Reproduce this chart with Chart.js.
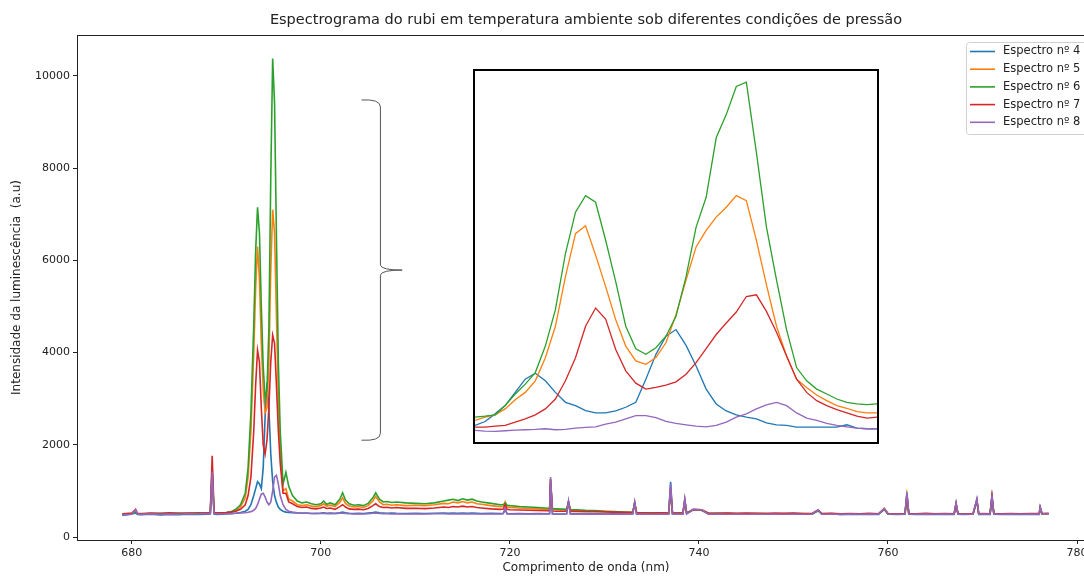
<!DOCTYPE html>
<html>
<head>
<meta charset="utf-8">
<script src="https://cdn.jsdelivr.net/npm/chart.js@4.4.1/dist/chart.umd.min.js"></script>
<style>
  html, body { margin: 0; padding: 0; overflow: hidden; background: #fff; }
  #wrap { position: relative; width: 1110px; height: 577px; }
  #main { position: absolute; left: 0; top: 0; }
  #insetBox { position: absolute; left: 473px; top: 69px; width: 402px; height: 371px;
              border: 2px solid #000; background: #fff; }
</style>
</head>
<body>
<div id="wrap">
  <canvas id="main" width="1110" height="577"></canvas>
  <div id="insetBox"><canvas id="inset" width="402" height="371"></canvas></div>
</div>
<script>
// --- data ---
const chartTitle = 'Espectrograma do rubi em temperatura ambiente sob diferentes condições de pressão';
const seriesLabels = ['Espectro nº 4', 'Espectro nº 5', 'Espectro nº 6', 'Espectro nº 7', 'Espectro nº 8'];
const seriesColors = ['#1f77b4', '#ff7f0e', '#2ca02c', '#d62728', '#9467bd'];
const xTickValues = [680, 700, 720, 740, 760, 780];
const yTickValues = [0, 2000, 4000, 6000, 8000, 10000];

const wavelength = [
  679, 680, 680.4, 680.6, 681, 682, 683, 684, 685, 686,
  687, 688, 688.3, 688.5, 688.7, 689, 690, 690.5, 691, 691.5,
  692, 692.3, 692.6, 692.9, 693.1, 693.3, 693.5, 693.7, 693.9, 694.1,
  694.3, 694.5, 694.7, 694.9, 695.1, 695.3, 695.5, 695.7, 696.0, 696.3,
  696.6, 697.0, 697.5, 698, 698.5, 699, 699.5, 700, 700.3, 700.6,
  701, 701.5, 702, 702.3, 702.6, 703, 703.5, 704, 704.5, 705,
  705.5, 705.8, 706.2, 706.6, 707, 707.5, 708, 709, 710, 711,
  712, 713, 713.5, 714, 714.5, 715, 715.5, 716, 716.5, 717,
  718, 719, 719.3, 719.5, 719.7, 720, 721, 722, 723, 724,
  724.2, 724.3, 724.5, 725, 726, 726.2, 726.4, 727, 728, 729,
  730, 731, 732, 733, 733.2, 733.4, 734, 735, 736, 736.8,
  737, 737.2, 738, 738.3, 738.5, 738.7, 739.4, 740.3, 741, 742,
  743, 744, 745, 746, 747, 748, 749, 750, 751, 752,
  752.6, 753, 754, 755, 756, 757, 758, 759, 759.6, 760,
  761, 761.8, 762, 762.2, 763, 764, 765, 766, 767, 767.2,
  767.4, 768, 769, 769.4, 769.6, 770, 770.8, 771, 771.2, 772,
  773, 774, 775, 776, 776.1, 776.3, 777
];

const espectro4 = [
  470, 500, 520, 490, 485, 495, 480, 490, 485, 495,
  490, 495, 500, 1300, 500, 490, 500, 505, 515, 530,
  560, 600, 700, 900, 1050, 1200, 1150, 1050, 1500, 2600,
  3350, 2800, 1800, 1200, 900, 750, 650, 600, 560, 540,
  530, 525, 520, 515, 520, 510, 515, 520, 525, 515,
  520, 515, 525, 540, 525, 515, 510, 515, 510, 520,
  530, 540, 525, 520, 515, 520, 515, 510, 515, 510,
  515, 520, 515, 520, 515, 520, 515, 520, 515, 510,
  515, 510, 515, 600, 510, 505, 510, 505, 510, 505,
  510, 1250, 505, 500, 505, 760, 500, 505, 500, 505,
  500, 505, 500, 505, 740, 500, 505, 500, 505, 500,
  1200, 500, 505, 500, 800, 505, 590, 580, 500, 505,
  495, 500, 495, 505, 495, 500, 495, 500, 495, 500,
  570, 495, 500, 490, 495, 490, 495, 490, 600, 495,
  490, 495, 940, 495, 490, 495, 490, 495, 490, 720,
  495, 490, 495, 800, 490, 495, 490, 880, 495, 490,
  495, 490, 495, 490, 640, 495, 500
];

const espectro5 = [
  490, 510, 560, 505, 500, 515, 505, 520, 505, 515,
  510, 520, 515, 1450, 520, 515, 525, 540, 570, 650,
  850, 1300, 2300, 4000, 5400, 6300, 5600, 4200, 3200, 2700,
  2800, 3800, 5800, 7100, 6600, 4800, 3000, 1900, 1000, 1050,
  820, 780, 700, 680, 700, 670, 660, 680, 720, 670,
  690, 660, 750, 850, 730, 670, 650, 660, 640, 680,
  780, 880, 760, 700, 710, 690, 700, 680, 690, 680,
  700, 730, 720, 760, 740, 770, 740, 760, 720, 710,
  680, 660, 665, 760, 655, 640, 630, 620, 610, 600,
  600, 1200, 595, 590, 585, 760, 580, 575, 570, 565,
  555, 545, 540, 535, 740, 530, 525, 520, 525, 520,
  1050, 520, 515, 520, 780, 515, 590, 575, 515, 510,
  515, 510, 505, 515, 510, 505, 510, 505, 510, 505,
  575, 505, 510, 500, 505, 500, 505, 500, 610, 505,
  500, 505, 900, 500, 505, 500, 505, 500, 505, 720,
  500, 505, 500, 790, 500, 505, 500, 860, 505, 500,
  505, 500, 505, 500, 630, 505, 510
];

const espectro6 = [
  500, 505, 540, 500, 510, 505, 515, 510, 520, 510,
  525, 515, 520, 1500, 525, 520, 530, 550, 600, 700,
  950, 1500, 2700, 4600, 6200, 7150, 6600, 5000, 3700, 3000,
  3200, 4500, 7800, 10380, 9400, 6500, 3800, 2300, 1150, 1400,
  1100, 900, 780, 740, 760, 720, 700, 720, 780, 710,
  740, 700, 820, 960, 800, 720, 690, 700, 680, 730,
  850, 960, 820, 760, 770, 750, 760, 740, 730, 720,
  740, 780, 800, 820, 790, 830, 800, 820, 780, 760,
  730, 700, 700, 740, 690, 680, 660, 650, 640, 625,
  630, 1150, 615, 610, 600, 760, 595, 590, 580, 575,
  560, 550, 540, 535, 740, 530, 525, 520, 520, 515,
  1000, 515, 520, 515, 760, 520, 590, 580, 510, 515,
  510, 505, 510, 505, 510, 500, 505, 510, 505, 500,
  570, 500, 505, 500, 505, 500, 505, 500, 600, 500,
  505, 500, 880, 505, 500, 505, 500, 500, 505, 710,
  500, 505, 500, 780, 505, 500, 505, 850, 500, 505,
  500, 505, 500, 505, 630, 500, 505
];

const espectro7 = [
  505, 520, 600, 515, 505, 520, 510, 525, 510, 520,
  515, 525, 520, 1760, 530, 520, 530, 540, 560, 600,
  700, 900, 1300, 2300, 3300, 4050, 3800, 2800, 2000, 1800,
  2100, 2800, 3800, 4380, 4200, 3300, 2300, 1600, 950, 950,
  760, 720, 660, 640, 650, 620, 610, 630, 650, 620,
  630, 600, 660, 700, 650, 610, 600, 605, 590, 620,
  680, 720, 660, 640, 645, 630, 640, 620, 625, 615,
  630, 650, 640, 660, 650, 670, 650, 660, 640, 630,
  610, 600, 605, 700, 600, 590, 585, 580, 575, 570,
  570, 1250, 565, 560, 560, 760, 555, 555, 550, 550,
  545, 540, 535, 530, 740, 530, 525, 520, 525, 520,
  1050, 520, 520, 520, 800, 515, 600, 590, 520, 515,
  520, 515, 520, 515, 510, 520, 515, 520, 510, 515,
  585, 510, 515, 505, 510, 505, 515, 505, 620, 510,
  505, 510, 920, 510, 505, 515, 505, 510, 505, 720,
  510, 505, 510, 800, 505, 510, 505, 880, 510, 505,
  510, 505, 510, 510, 640, 510, 515
];

const espectro8 = [
  480, 495, 590, 500, 490, 505, 490, 500, 495, 505,
  500, 510, 505, 1420, 510, 500, 505, 510, 515, 520,
  525, 535, 550, 580, 620, 700, 820, 930, 950, 870,
  760, 700, 760, 1000, 1300, 1340, 1150, 900, 700, 600,
  560, 540, 525, 520, 515, 510, 505, 510, 515, 505,
  510, 505, 515, 520, 510, 505, 500, 505, 500, 505,
  515, 520, 510, 505, 505, 500, 505, 500, 505, 500,
  505, 505, 500, 505, 500, 505, 500, 505, 500, 500,
  505, 500, 505, 620, 500, 500, 505, 500, 505, 500,
  505, 1300, 500, 495, 500, 780, 500, 500, 495, 500,
  495, 500, 495, 500, 760, 495, 500, 495, 500, 495,
  1150, 500, 500, 495, 830, 500, 600, 590, 495, 500,
  495, 500, 495, 500, 495, 500, 495, 500, 495, 500,
  590, 495, 500, 490, 500, 495, 500, 495, 620, 500,
  495, 500, 970, 500, 495, 500, 495, 500, 495, 740,
  500, 495, 500, 830, 495, 500, 495, 910, 500, 495,
  500, 495, 500, 495, 650, 500, 505
];

// zoomed view of the two R lines (inset)
const insetWavelength = [
  692, 692.125, 692.25, 692.375, 692.5, 692.625, 692.75, 692.875, 693, 693.125,
  693.25, 693.375, 693.5, 693.625, 693.75, 693.875, 694, 694.125, 694.25, 694.375,
  694.5, 694.625, 694.75, 694.875, 695, 695.125, 695.25, 695.375, 695.5, 695.625,
  695.75, 695.875, 696, 696.125, 696.25, 696.375, 696.5, 696.625, 696.75, 696.875, 697
];
const inset4 = [
  2365, 2453, 2621, 2803, 3095, 3387, 3518, 3351, 3095, 2876,
  2803, 2694, 2642, 2642, 2686, 2767, 2876, 3387, 3935, 4336,
  4482, 4132, 3679, 3168, 2840, 2686, 2599, 2548, 2511, 2423,
  2380, 2365, 2329, 2329, 2329, 2329, 2329, 2380, 2307, 2292, 2292
];
const inset5 = [
  2475, 2548, 2599, 2730, 2934, 3095, 3351, 3862, 4555, 5650,
  6599, 6774, 6125, 5431, 4701, 4117, 3789, 3716, 3862, 4190,
  4810, 5577, 6307, 6672, 6964, 7183, 7439, 7329, 6453, 5468,
  4555, 3898, 3387, 3205, 3037, 2913, 2803, 2745, 2672, 2642, 2642
];
const inset6 = [
  2548, 2569, 2599, 2803, 3059, 3278, 3533, 4117, 4920, 6161,
  7074, 7439, 7293, 6453, 5541, 4555, 4059, 3935, 4081, 4336,
  4774, 5650, 6745, 7402, 8716, 9227, 9848, 9942, 8388, 6745,
  5577, 4482, 3643, 3351, 3168, 3059, 2949, 2876, 2840, 2825, 2840
];
const inset7 = [
  2329, 2329, 2350, 2365, 2438, 2511, 2599, 2730, 2949, 3351,
  3862, 4555, 4957, 4716, 4044, 3570, 3299, 3168, 3205, 3256,
  3329, 3497, 3752, 4059, 4373, 4628, 4869, 5212, 5249, 4884,
  4424, 3898, 3387, 3095, 2913, 2803, 2715, 2642, 2569, 2526, 2548
];
const inset8 = [
  2256, 2241, 2234, 2248, 2263, 2270, 2277, 2292, 2270, 2277,
  2307, 2321, 2336, 2394, 2438, 2511, 2584, 2584, 2540, 2453,
  2409, 2380, 2350, 2336, 2365, 2438, 2548, 2621, 2730, 2818,
  2876, 2803, 2642, 2526, 2475, 2409, 2365, 2336, 2307, 2292, 2292
];

// brace next to the peaks: [x of ends, x of spine, x of tip] and [y top, y tip, y bottom]
const braceX = [704.3, 706.3, 708.6];
const braceY = [9480, 5790, 2100];

const mainSeries = [espectro4, espectro5, espectro6, espectro7, espectro8];
const insetSeries = [inset4, inset5, inset6, inset7, inset8];

Chart.defaults.font.family = '"DejaVu Sans", sans-serif';
Chart.defaults.color = '#222';

function toPoints(xs, ys) {
  return xs.map((x, i) => ({ x: x, y: ys[i] }));
}

const titlePlugin = {
  id: 'figTitle',
  afterDraw(chart) {
    const { ctx, chartArea } = chart;
    ctx.save();
    ctx.font = '14.5px "DejaVu Sans"';
    ctx.fillStyle = '#222';
    ctx.textAlign = 'center';
    ctx.textBaseline = 'middle';
    ctx.fillText(chartTitle, (chartArea.left + chartArea.right) / 2, 20);
    ctx.restore();
  }
};

const framePlugin = {
  id: 'frame',
  afterDraw(chart) {
    const { ctx, chartArea: a } = chart;
    ctx.save();
    ctx.strokeStyle = '#222';
    ctx.lineWidth = 1;
    ctx.strokeRect(a.left + 0.5, a.top + 0.5, a.right - a.left, a.bottom - a.top);
    ctx.restore();
  }
};

const bracePlugin = {
  id: 'brace',
  afterDatasetsDraw(chart) {
    const { ctx, scales: { x, y } } = chart;
    const x0 = x.getPixelForValue(braceX[0]);
    const x1 = x.getPixelForValue(braceX[1]);
    const x2 = x.getPixelForValue(braceX[2]);
    const yT = y.getPixelForValue(braceY[0]);
    const yM = y.getPixelForValue(braceY[1]);
    const yB = y.getPixelForValue(braceY[2]);
    ctx.save();
    ctx.strokeStyle = '#555';
    ctx.lineWidth = 1;
    ctx.beginPath();
    ctx.moveTo(x0, yT);
    ctx.quadraticCurveTo(x1, yT - 1, x1, yT + 7);
    ctx.lineTo(x1, yM - 5);
    ctx.quadraticCurveTo(x1 + 1, yM, x2, yM);
    ctx.quadraticCurveTo(x1 + 1, yM, x1, yM + 5);
    ctx.lineTo(x1, yB - 7);
    ctx.quadraticCurveTo(x1, yB + 1, x0, yB);
    ctx.stroke();
    ctx.restore();
  }
};

const legendPlugin = {
  id: 'boxLegend',
  afterDraw(chart) {
    const { ctx } = chart;
    const left = 966, top = 42, rowH = 17.7;
    ctx.save();
    ctx.fillStyle = 'rgba(255,255,255,0.85)';
    ctx.strokeStyle = '#d0d0d0';
    ctx.lineWidth = 1;
    ctx.beginPath();
    ctx.roundRect(left + 0.5, top + 0.5, 160, 92, 3);
    ctx.fill();
    ctx.stroke();
    ctx.font = '11.5px "DejaVu Sans"';
    ctx.textBaseline = 'middle';
    chart.data.datasets.forEach((ds, i) => {
      const yy = top + 9.5 + i * rowH;
      ctx.strokeStyle = ds.borderColor;
      ctx.lineWidth = 1.6;
      ctx.beginPath();
      ctx.moveTo(left + 4, yy);
      ctx.lineTo(left + 29, yy);
      ctx.stroke();
      ctx.fillStyle = '#222';
      ctx.fillText(ds.label, left + 37, yy);
    });
    ctx.restore();
  }
};

new Chart(document.getElementById('main'), {
  type: 'line',
  data: {
    datasets: mainSeries.map((s, i) => ({
      label: seriesLabels[i],
      data: toPoints(wavelength, s),
      borderColor: seriesColors[i],
      backgroundColor: seriesColors[i],
      borderWidth: 1.6,
      pointRadius: 0,
      tension: 0,
      order: 4 - i
    }))
  },
  options: {
    responsive: false,
    animation: false,
    events: [],
    layout: { padding: { top: 35, right: 15, left: 0, bottom: 0 } },
    plugins: { legend: { display: false }, tooltip: { enabled: false } },
    scales: {
      x: {
        type: 'linear',
        min: 674.2,
        max: 781.9,
        afterFit(scale) { scale.height = 37; },
        afterBuildTicks(scale) { scale.ticks = xTickValues.map(v => ({ value: v })); },
        ticks: { padding: 3, font: { size: 11 }, color: '#222', maxRotation: 0, autoSkip: false,
                 callback: v => String(v) },
        grid: { display: true, drawOnChartArea: false, drawTicks: true, tickLength: 4, color: '#222' },
        border: { display: true, color: '#222' },
        title: { display: true, text: 'Comprimento de onda (nm)', font: { size: 12 }, color: '#222',
                 padding: { top: 0, bottom: 2 } }
      },
      y: {
        type: 'linear',
        min: -65,
        max: 10889,
        afterFit(scale) { scale.width = 77; },
        afterBuildTicks(scale) { scale.ticks = yTickValues.map(v => ({ value: v })); },
        ticks: { padding: 3, font: { size: 11 }, color: '#222', autoSkip: false,
                 callback: v => String(v) },
        grid: { display: true, drawOnChartArea: false, drawTicks: true, tickLength: 4, color: '#222' },
        border: { display: true, color: '#222' },
        title: { display: true, text: 'Intensidade da luminescência  (a.u)', font: { size: 12 }, color: '#222',
                 padding: { top: 10, bottom: 0 } }
      }
    }
  },
  plugins: [titlePlugin, bracePlugin, framePlugin, legendPlugin]
});

new Chart(document.getElementById('inset'), {
  type: 'line',
  data: {
    datasets: insetSeries.map((s, i) => ({
      label: seriesLabels[i],
      data: toPoints(insetWavelength, s),
      borderColor: seriesColors[i],
      borderWidth: 1.3,
      pointRadius: 0,
      tension: 0,
      order: 4 - i
    }))
  },
  options: {
    responsive: false,
    animation: false,
    events: [],
    layout: { padding: 0 },
    plugins: { legend: { display: false }, tooltip: { enabled: false } },
    scales: {
      x: { type: 'linear', display: false, min: 692, max: 697 },
      y: { type: 'linear', display: false, min: 2000, max: 10190 }
    }
  }
});
</script>
</body>
</html>
